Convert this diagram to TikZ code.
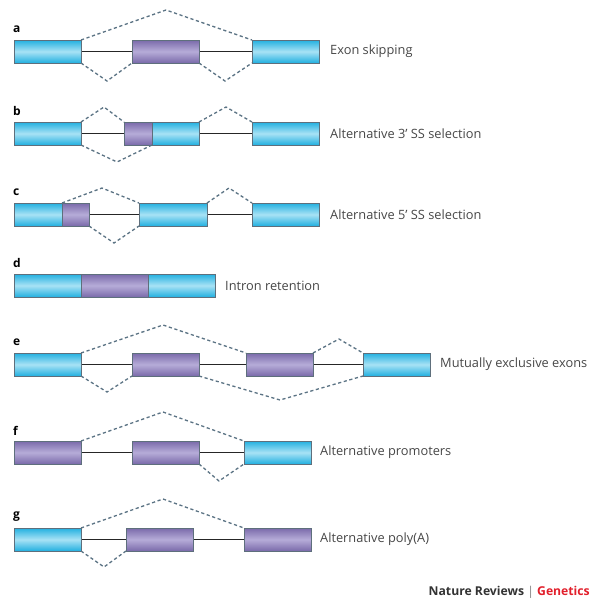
\documentclass[tikz,border=0pt]{standalone}
\usepackage{fontspec}
\setmainfont{Open Sans}
\definecolor{cyEdge}{HTML}{22B0E0}
\definecolor{cyMid}{HTML}{A8E2F5}
\definecolor{puEdge}{HTML}{7A6AAA}
\definecolor{puMid}{HTML}{B6ACD8}
\definecolor{boxLine}{HTML}{5E6F7C}
\definecolor{dashCol}{HTML}{5B7384}
\definecolor{natRed}{HTML}{E2202C}
\definecolor{natGray}{HTML}{333333}
\begin{document}
\begin{tikzpicture}[x=1pt,y=-1pt,
  exon/.style={draw=boxLine, line width=0.5pt, minimum height=23pt, inner sep=0pt, outer sep=0pt},
  cy/.style={exon, top color=cyEdge, bottom color=cyEdge, middle color=cyMid},
  pu/.style={exon, top color=puEdge, bottom color=puEdge, middle color=puMid},
  intron/.style={line width=1.3pt, black!85},
  splice/.style={dashCol, line width=1.3pt, dash pattern=on 3.2pt off 2.6pt},
  lab/.style={anchor=west, font=\fontsize{12}{14}\selectfont\bfseries, inner sep=0pt},
  desc/.style={anchor=west, font=\fontsize{12.8}{15}\selectfont, text=natGray!90, inner sep=0pt}]
\useasboundingbox (0,0) rectangle (596,600);
\fill[white] (0,0) rectangle (596,600);

% ---------- a: exon skipping
\node[lab] (la) at (13,29) {a};
\draw[intron] (81,51.5) -- (132,51.5);
\draw[intron] (199,51.5) -- (252,51.5);
\node[cy, minimum width=67pt] (a1) at (47.5,51.5) {};
\node[pu, minimum width=67pt] (a2) at (165.5,51.5) {};
\node[cy, minimum width=67pt] (a3) at (285.5,51.5) {};
\coordinate (aU) at (166,10);
\coordinate (aL1) at (107,81);
\coordinate (aL2) at (225,81);
\draw[splice] (a1.north east) -- (aU) -- (a3.north west);
\draw[splice] (a1.south east) -- (aL1) -- (a2.south west);
\draw[splice] (a2.south east) -- (aL2) -- (a3.south west);
\node[desc] (ta) at (330,51.5) {Exon skipping};

% ---------- b: alternative 3' SS
\node[lab] (lb) at (13,111) {b};
\draw[intron] (81,133.5) -- (124,133.5);
\draw[intron] (199,133.5) -- (252,133.5);
\node[cy, minimum width=67pt] (b1) at (47.5,133.5) {};
\node[pu, minimum width=28pt] (b2) at (138,133.5) {};
\node[cy, minimum width=47pt] (b3) at (175.5,133.5) {};
\node[cy, minimum width=67pt] (b4) at (285.5,133.5) {};
\coordinate (bU1) at (104,107);
\coordinate (bL1) at (117,162);
\coordinate (bU2) at (226,107);
\draw[splice] (b1.north east) -- (bU1) -- (b2.north west);
\draw[splice] (b1.south east) -- (bL1) -- (b3.south west);
\draw[splice] (b3.north east) -- (bU2) -- (b4.north west);
\node[desc] (tb) at (330,133.5) {Alternative 3\textquoteright\ SS selection};

% ---------- c: alternative 5' SS
\node[lab] (lc) at (13,192) {c};
\draw[intron] (89,214.5) -- (139,214.5);
\draw[intron] (207,214.5) -- (252,214.5);
\node[cy, minimum width=48pt] (c1) at (38,214.5) {};
\node[pu, minimum width=27pt] (c2) at (75.5,214.5) {};
\node[cy, minimum width=68pt] (c3) at (173,214.5) {};
\node[cy, minimum width=67pt] (c4) at (285.5,214.5) {};
\coordinate (cU1) at (102,188);
\coordinate (cL1) at (114,243);
\coordinate (cU2) at (229,188);
\draw[splice] (c2.north west) -- (cU1) -- (c3.north west);
\draw[splice] (c2.south east) -- (cL1) -- (c3.south west);
\draw[splice] (c3.north east) -- (cU2) -- (c4.north west);
\node[desc] (tc) at (330,214.5) {Alternative 5\textquoteright\ SS selection};

% ---------- d: intron retention
\node[lab] (ld) at (13,263) {d};
\node[cy, minimum width=67pt] (d1) at (47.5,285.5) {};
\node[pu, minimum width=67pt] (d2) at (114.5,285.5) {};
\node[cy, minimum width=67pt] (d3) at (181.5,285.5) {};
\node[desc] (td) at (225,285.5) {Intron retention};

% ---------- e: mutually exclusive exons
\node[lab] (le) at (13,342) {e};
\draw[intron] (81,364.5) -- (132,364.5);
\draw[intron] (199,364.5) -- (246,364.5);
\draw[intron] (313,364.5) -- (363,364.5);
\node[cy, minimum width=67pt] (e1) at (47.5,364.5) {};
\node[pu, minimum width=67pt] (e2) at (165.5,364.5) {};
\node[pu, minimum width=67pt] (e3) at (279.5,364.5) {};
\node[cy, minimum width=67pt] (e4) at (396.5,364.5) {};
\coordinate (eU1) at (163,325);
\coordinate (eU2) at (339,339);
\coordinate (eL1) at (107,392);
\coordinate (eL2) at (280,400);
\draw[splice] (e1.north east) -- (eU1) -- (e3.north west);
\draw[splice] (e3.north east) -- (eU2) -- (e4.north west);
\draw[splice] (e1.south east) -- (eL1) -- (e2.south west);
\draw[splice] (e2.south east) -- (eL2) -- (e4.south west);
\node[desc] (te) at (440,364.5) {Mutually exclusive exons};

% ---------- f: alternative promoters
\node[lab] (lf) at (13,431) {f};
\draw[intron] (81,452.5) -- (132,452.5);
\draw[intron] (199,452.5) -- (244,452.5);
\node[pu, minimum width=67pt] (f1) at (47.5,452.5) {};
\node[pu, minimum width=67pt] (f2) at (165.5,452.5) {};
\node[cy, minimum width=67pt] (f3) at (277.5,452.5) {};
\coordinate (fU) at (163,412);
\coordinate (fL) at (219,481);
\draw[splice] (f1.north east) -- (fU) -- (f3.north west);
\draw[splice] (f2.south east) -- (fL) -- (f3.south west);
\node[desc] (tf) at (320,452.5) {Alternative promoters};

% ---------- g: alternative poly(A)
\node[lab] (lg) at (13,517) {g};
\draw[intron] (81,539.5) -- (126,539.5);
\draw[intron] (193,539.5) -- (244,539.5);
\node[cy, minimum width=67pt] (g1) at (47.5,539.5) {};
\node[pu, minimum width=67pt] (g2) at (159.5,539.5) {};
\node[pu, minimum width=67pt] (g3) at (277.5,539.5) {};
\coordinate (gU) at (163,499);
\coordinate (gL) at (104,567);
\draw[splice] (g1.north east) -- (gU) -- (g3.north west);
\draw[splice] (g1.south east) -- (gL) -- (g2.south west);
\node[desc] (tg) at (320,539.5) {Alternative poly(A)};

% ---------- footer
\node[anchor=east, inner sep=0pt, font=\fontsize{12.2}{14}\selectfont\bfseries] (foot) at (590,592)
  {\textcolor{natGray}{Nature Reviews} \textcolor{gray}{\mdseries|} \textcolor{natRed}{Genetics}};
\end{tikzpicture}
\end{document}
